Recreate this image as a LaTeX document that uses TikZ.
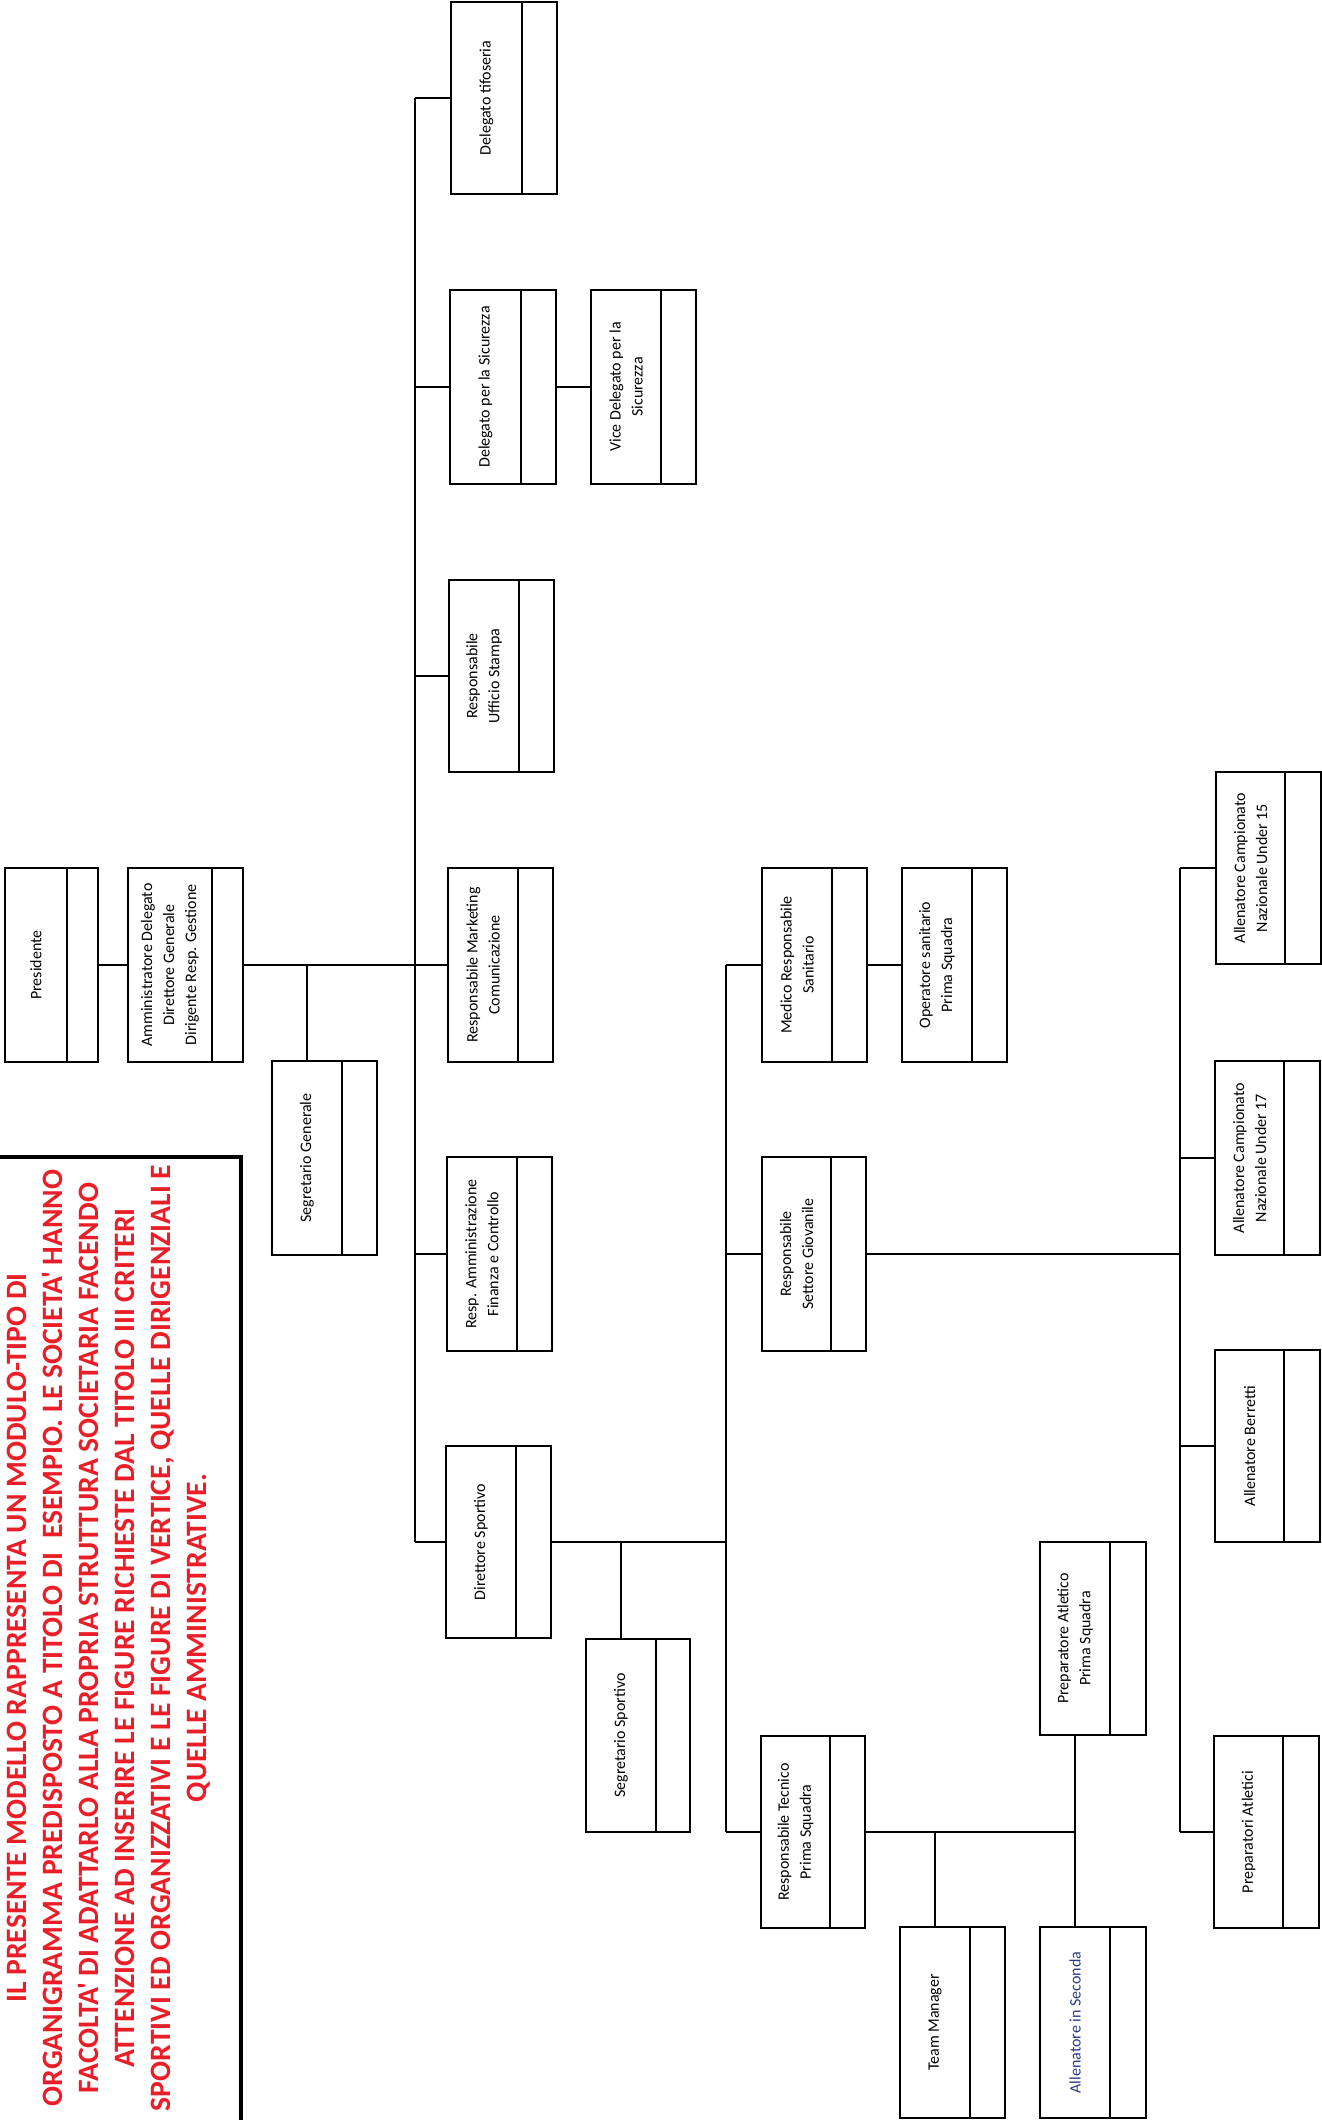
\documentclass[tikz,border=0pt]{standalone}
\usepackage{fontspec}
\usetikzlibrary{calc}
\newfontfamily\calib{Carlito}
\newfontfamily\calibn{Carlito}
\definecolor{notered}{RGB}{235,30,40}
\definecolor{scanblue}{RGB}{40,60,130}
\newcommand\orgbox[7]{%
  \node[obox, minimum width={(#4)-(#2)}, minimum height={(#5)-(#3)}] (#1) at ({((#2)+(#4))/2},{((#3)+(#5))/2}) {};
  \draw[conn] (#6,#3) -- (#6,#5);
  \node[lbl] (#1-l) at ({((#2)+(#6))/2},{((#3)+(#5))/2}) {#7};
}
\begin{document}
\begin{tikzpicture}[x=1pt,y=-1pt,
  obox/.style={draw, line width=1.7pt, inner sep=0pt},
  lbl/.style={font=\calib\fontsize{16}{22}\selectfont, align=center, rotate=90, inner sep=0pt},
  conn/.style={line width=1.7pt},
  redtxt/.style={font=\calibn\bfseries\fontsize{29.6}{36}\selectfont, text=notered, align=center, rotate=90, inner sep=0pt},
  frame/.style={draw, line width=3.5pt, inner sep=0pt}]
\useasboundingbox (0,0) rectangle (1322,2120);

% note frame and text
\node[frame, minimum width=246, minimum height=975] (frame) at (118,1644.5) {};
\node[redtxt] (note) at (109,1638) {IL PRESENTE MODELLO RAPPRESENTA UN MODULO-TIPO DI\\
ORGANIGRAMMA PREDISPOSTO A TITOLO DI\ \ ESEMPIO. LE SOCIETA' HANNO\\
FACOLTA' DI ADATTARLO ALLA PROPRIA STRUTTURA SOCIETARIA FACENDO\\
ATTENZIONE AD INSERIRE LE FIGURE RICHIESTE DAL TITOLO III CRITERI\\
SPORTIVI ED ORGANIZZATIVI E LE FIGURE DI VERTICE, QUELLE DIRIGENZIALI E\\
QUELLE AMMINISTRATIVE.};

% boxes
\orgbox{pres}{5}{868}{98}{1062}{67}{Presidente}
\orgbox{ad}{128}{868}{243}{1062}{212}{Amministratore Delegato\\Direttore Generale\\Dirigente Resp. Gestione}
\orgbox{sg}{272}{1061}{377}{1255}{342}{Segretario Generale}
\orgbox{deltif}{451}{2}{557}{194}{522}{Delegato tifoseria}
\orgbox{delsic}{450}{290}{556}{484}{521}{Delegato per la Sicurezza}
\orgbox{vice}{591}{290}{696}{484}{661}{Vice Delegato per la\\Sicurezza}
\orgbox{stampa}{449}{580}{554}{772}{519}{Responsabile\\Ufficio Stampa}
\orgbox{mkt}{448}{868}{553}{1062}{518}{Responsabile Marketing\\Comunicazione}
\orgbox{amm}{447}{1157}{552}{1351}{517}{Resp. Amministrazione\\Finanza e Controllo}
\orgbox{ds}{446}{1446}{551}{1638}{516}{Direttore Sportivo}
\orgbox{segsp}{586}{1639}{690}{1832}{656}{Segretario Sportivo}
\orgbox{medico}{762}{868}{867}{1062}{832}{Medico Responsabile\\Sanitario}
\orgbox{oper}{902}{868}{1007}{1062}{972}{Operatore sanitario\\Prima Squadra}
\orgbox{giov}{762}{1157}{866}{1351}{831}{Responsabile\\Settore Giovanile}
\orgbox{tecnico}{761}{1736}{865}{1928}{830}{Responsabile Tecnico\\Prima Squadra}
\orgbox{prepps}{1040}{1542}{1146}{1735}{1110}{Preparatore Atletico\\Prima Squadra}
\orgbox{tm}{900}{1927}{1005}{2118}{970}{Team Manager}
\orgbox{ais}{1040}{1927}{1146}{2118}{1110}{\textcolor{scanblue}{Allenatore in Seconda}}
\orgbox{u15}{1216}{772}{1321}{964}{1285}{Allenatore Campionato\\Nazionale Under 15}
\orgbox{u17}{1215}{1061}{1320}{1255}{1284}{Allenatore Campionato\\Nazionale Under 17}
\orgbox{berr}{1215}{1350}{1320}{1542}{1284}{Allenatore Berretti}
\orgbox{prepat}{1214}{1736}{1319}{1928}{1283}{Preparatori Atletici}

% trunk coordinates
\coordinate (v1) at (415,0);
\coordinate (v2) at (726,0);
\coordinate (v3) at (1180,0);

% connectors
\draw[conn] (pres.east) -- (ad.west);
\draw[conn] (ad.east) -- (ad.east -| v1);
\draw[conn] (sg-l |- sg.north) -- (sg-l |- ad.east);
\draw[conn] (deltif.west -| v1) -- (ds.west -| v1);
\foreach \n in {deltif,delsic,stampa,mkt,amm,ds}
  \draw[conn] (\n.west) -- (\n.west -| v1);
\draw[conn] (delsic.east) -- (vice.west);
\draw[conn] (ds.east) -- (ds.east -| v2);
\draw[conn] (segsp-l |- segsp.north) -- (segsp-l |- ds.east);
\draw[conn] (medico.west -| v2) -- (tecnico.west -| v2);
\foreach \n in {medico,giov,tecnico}
  \draw[conn] (\n.west) -- (\n.west -| v2);
\draw[conn] (medico.east) -- (oper.west);
\draw[conn] (giov.east) -- (giov.east -| v3);
\draw[conn] (u15.west -| v3) -- (prepat.west -| v3);
\foreach \n in {u15,u17,berr,prepat}
  \draw[conn] (\n.west) -- (\n.west -| v3);
\draw[conn] (tecnico.east) -- (tecnico.east -| prepps-l);
\draw[conn] (prepps-l |- prepps.south) -- (prepps-l |- ais.north);
\draw[conn] (tm-l |- tecnico.east) -- (tm-l |- tm.north);
\end{tikzpicture}
\end{document}
